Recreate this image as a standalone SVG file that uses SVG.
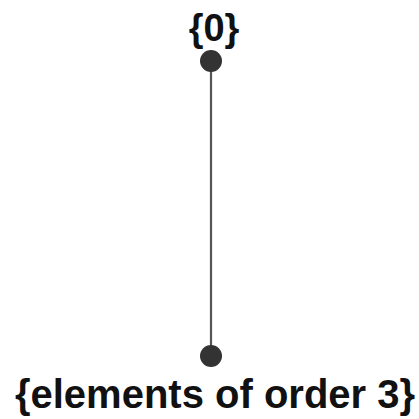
<svg xmlns="http://www.w3.org/2000/svg" width="419" height="419" viewBox="0 0 419 419">
<style>
.n{fill:#333;}
.t{font-family:"Liberation Sans",Arial,sans-serif;font-weight:bold;fill:#111;text-anchor:middle;}
.e{stroke:#555;stroke-width:2.2;}
</style>
<rect width="419" height="419" fill="#fff"/>
<g id="edges"><line class="e" x1="211" y1="61" x2="211" y2="356"/></g>
<g id="top"><circle class="n" cx="211" cy="61" r="11"/><text class="t" x="214" y="41" font-size="38">{0}</text></g>
<g id="bottom"><circle class="n" cx="211" cy="356" r="11"/><text class="t" x="215" y="408" font-size="40">{elements of order 3}</text></g>
</svg>
